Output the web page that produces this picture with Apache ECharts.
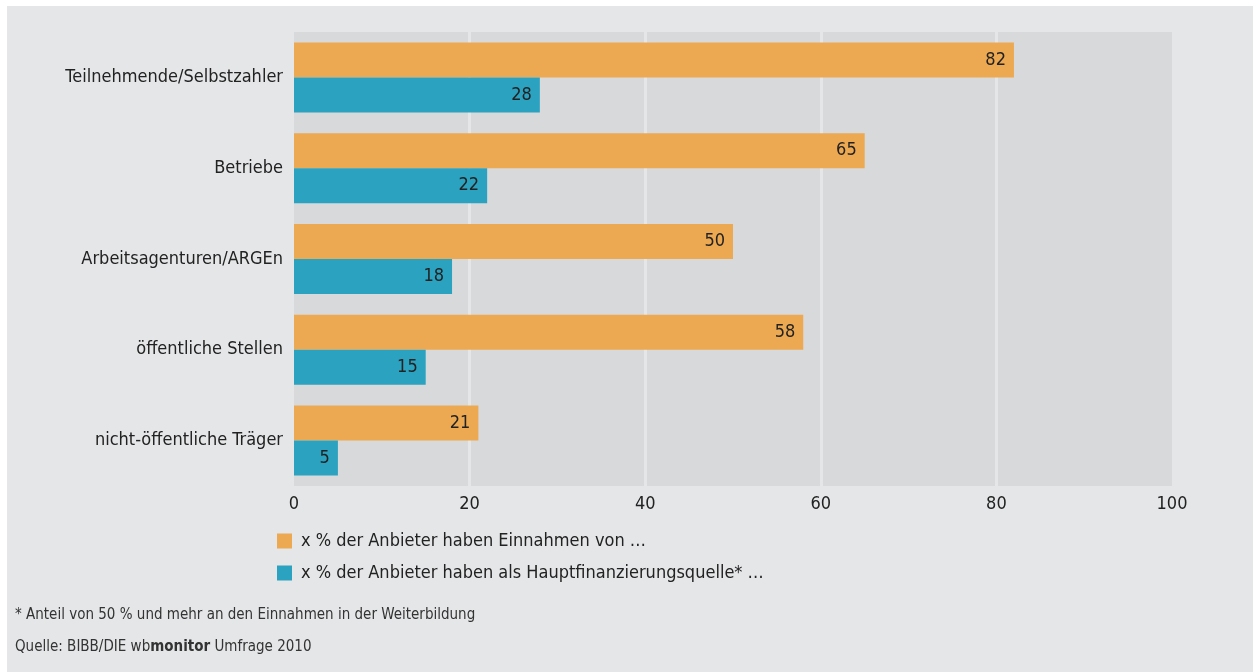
<!DOCTYPE html>
<html><head><meta charset="utf-8">
<script src="https://cdn.jsdelivr.net/npm/echarts@6/dist/echarts.min.js"></script>
<style>html,body{margin:0;padding:0;background:#fff}#c{width:1253px;height:672px}</style>
</head><body><div id="c"></div>
<script>
const categories = ['Teilnehmende/Selbstzahler','Betriebe','Arbeitsagenturen/ARGEn','öffentliche Stellen','nicht-öffentliche Träger'];
const einnahmen = [82, 65, 50, 58, 21];
const hauptquelle = [28, 22, 18, 15, 5];
const seriesNames = ['x % der Anbieter haben Einnahmen von …','x % der Anbieter haben als Hauptfinanzierungsquelle* …'];
const xTicks = {min: 0, max: 100, interval: 20};
const footnote = '* Anteil von 50 % und mehr an den Einnahmen in der Weiterbildung';

const FONT = "'Liberation Sans Narrow', 'DejaVu Sans Condensed', 'Noto Sans', sans-serif";
const chart = echarts.init(document.getElementById('c'));
chart.setOption({
  backgroundColor: '#e5e6e8',
  textStyle: {fontFamily: FONT},
  animation: false,
  grid: {left: 294, right: 81, top: 32, bottom: 186, show: true, backgroundColor: '#d8d9db', borderWidth: 0, containLabel: false},
  xAxis: {
    type: 'value', min: xTicks.min, max: xTicks.max, interval: xTicks.interval,
    axisLine: {show: false}, axisTick: {show: false},
    axisLabel: {color: '#222', fontSize: 18, fontFamily: FONT, margin: 9},
    splitLine: {show: true, showMinLine: false, showMaxLine: false, lineStyle: {color: '#e5e6e8', width: 3}}
  },
  yAxis: {
    type: 'category', data: categories, inverse: true,
    axisLine: {show: false}, axisTick: {show: false},
    axisLabel: {color: '#222', fontSize: 18, fontFamily: FONT, margin: 11}
  },
  legend: {
    orient: 'vertical', left: 277, top: 532, padding: 0, itemWidth: 15, itemHeight: 15, itemGap: 14,
    icon: 'rect', textStyle: {color: '#222', fontSize: 18, fontFamily: FONT, padding: [0,0,0,4]},
    data: seriesNames
  },
  series: [
    {name: seriesNames[0], type: 'bar', data: einnahmen, barWidth: 35, barGap: '0%',
     itemStyle: {color: '#eca951'},
     label: {show: true, position: 'insideRight', color: '#222', fontSize: 18, fontFamily: FONT, distance: 8}},
    {name: seriesNames[1], type: 'bar', data: hauptquelle, barWidth: 35, barGap: '0%',
     itemStyle: {color: '#2aa2c0'},
     label: {show: true, position: 'insideRight', color: '#222', fontSize: 18, fontFamily: FONT, distance: 8}}
  ],
  graphic: [
    {type: 'rect', left: 0, top: 0, shape: {width: 1253, height: 6}, style: {fill: '#fff'}, silent: true},
    {type: 'rect', left: 0, top: 0, shape: {width: 7, height: 672}, style: {fill: '#fff'}, silent: true},
    {type: 'text', left: 15, top: 608, style: {text: footnote, fill: '#333', font: '15px ' + FONT}},
    {type: 'text', left: 15, top: 640, style: {
      text: '{n|Quelle: BIBB/DIE wb}{b|monitor}{n| Umfrage 2010}',
      rich: {n: {fill: '#333', fontSize: 15, fontFamily: FONT}, b: {fill: '#333', fontSize: 15, fontFamily: FONT, fontWeight: 'bold'}}
    }}
  ]
});
</script></body></html>
